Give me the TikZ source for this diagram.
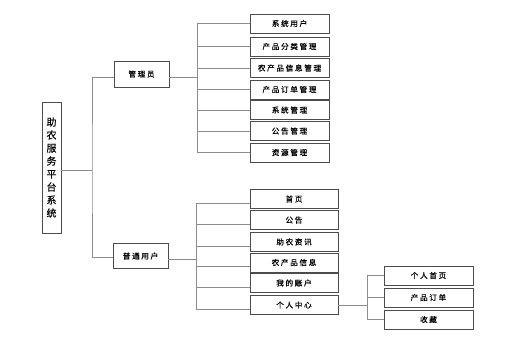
\documentclass[tikz,border=0pt]{standalone}
\usepackage{fontspec}
\newfontfamily\cjk[LetterSpace=22,FakeBold=0.6]{Noto Sans CJK SC}
\newfontfamily\cjkroot[FakeBold=0.4]{Noto Sans CJK SC}
\begin{document}
\begin{tikzpicture}[x=1pt,y=-1pt,
  box/.style={draw=black!70,line width=0.9pt,fill=white,inner sep=0pt,font=\cjk\fontsize{7.6}{9}\selectfont},
  conn/.style={draw=black!45,line width=1pt}]
\useasboundingbox (0,0) rectangle (505,343);
% root
\node[box,minimum width=19pt,minimum height=131pt,font=\cjkroot\fontsize{10}{13}\selectfont,align=center] (root) at (51.5,167.5) {助\\农\\服\\务\\平\\台\\系\\统};
\node[box,minimum width=55pt,minimum height=26pt] (adm) at (141.5,74) {管理员};
\node[box,minimum width=55pt,minimum height=25pt] (usr) at (140.5,256) {普通用户};
% admin children
\foreach \n/\y/\t in {a1/23.5/系统用户,a2/46.5/产品分类管理,a3/68/农产品信息管理,a4/89.5/产品订单管理,a5/110/系统管理,a6/131/公告管理,a7/152.5/资源管理}
  \node[box,minimum width=79pt,minimum height=19pt] (\n) at (289.5,\y) {\t};
% user children
\foreach \n/\y/\t in {u1/199/首页,u2/220/公告,u3/242/助农资讯,u4/262.5/农产品信息,u5/283/我的账户,u6/305/个人中心}
  \node[box,minimum width=88pt,minimum height=19pt] (\n) at (294,\y) {\t};
% personal center children
\foreach \n/\y/\t in {p1/275.5/个人首页,p2/297.5/产品订单,p3/319.5/收藏}
  \node[box,minimum width=89pt,minimum height=19pt] (\n) at (428.5,\y) {\t};
% coordinates
\coordinate (tr) at (92,170);
\coordinate (at) at (197,77);
\coordinate (ut) at (196,259);
\coordinate (pt) at (367,305);
% root connectors
\draw[conn] ([yshift=-2.5pt]root.east) -- (tr);
\draw[conn] (adm.west |- 0,77) -| (tr) |- (usr.west |- 0,257);
% admin
\draw[conn] (adm.east |- at) -- (at);
\draw[conn] (a1.west) -| (at);
\draw[conn] (a7.west) -| (at);
\foreach \n in {a2,a3,a4,a5,a6} \draw[conn] (\n.west) -- (\n.west -| at);
% user
\draw[conn] (usr.east |- ut) -- (ut);
\draw[conn] ([yshift=-4pt]u1.west) -| (ut);
\draw[conn] ([yshift=-4pt]u6.west) -| (ut);
\foreach \n in {u2,u3,u4,u5} \draw[conn] ([yshift=-4pt]\n.west) -- ([yshift=-4pt]\n.west -| ut);
% personal center
\draw[conn] (u6.east) -- (pt);
\draw[conn] (p1.west) -| (pt);
\draw[conn] (p3.west) -| (pt);
\draw[conn] (p2.west) -- (p2.west -| pt);
\end{tikzpicture}
\end{document}
